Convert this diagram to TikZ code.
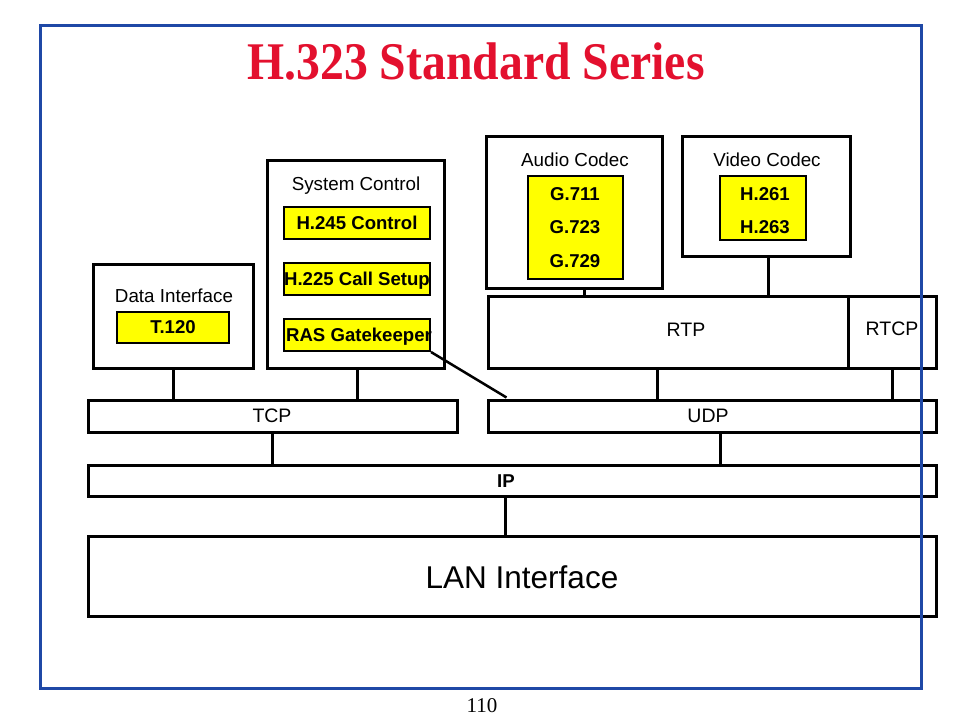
\documentclass[tikz,border=0pt]{standalone}
\usepackage{fontspec}
\setmainfont{Liberation Sans}
\newfontfamily\serifx{Liberation Serif}
\definecolor{titlered}{HTML}{E3102E}
\definecolor{frameblue}{HTML}{1F48A6}
\definecolor{ylw}{HTML}{FFFF00}
\begin{document}
\begin{tikzpicture}[x=1pt,y=-1pt,
  box/.style={draw=black, line width=3pt, rectangle, inner sep=0pt, fill=white},
  ybox/.style={draw=black, line width=2pt, rectangle, fill=ylw, inner sep=0pt},
  lbl/.style={font=\fontsize{18.8}{21}\selectfont, inner sep=0pt, text depth=0pt},
  blbl/.style={font=\fontsize{18.6}{21}\selectfont\bfseries, inner sep=0pt, text depth=0pt},
  wire/.style={line width=3pt}]
\useasboundingbox (0,0) rectangle (960,720);

% title
\node[font=\serifx\bfseries\fontsize{47.7}{50}\selectfont, text=titlered, inner sep=0pt] (title) at (476,62) {\scalebox{1}[1.11]{H.323 Standard Series}};

% boxes
\node[box, minimum width=160pt, minimum height=104pt] (di) at (173,316) {};
\node[box, minimum width=177pt, minimum height=208pt] (sc) at (355.5,264) {};
\node[box, minimum width=176pt, minimum height=152pt] (ac) at (574,212) {};
\node[box, minimum width=168pt, minimum height=120pt] (vc) at (766,196) {};
\node[box, minimum width=360pt, minimum height=72pt] (rtp) at (668,332) {};
\node[box, minimum width=88pt, minimum height=72pt] (rtcp) at (892,332) {};
\node[box, minimum width=369pt, minimum height=32pt] (tcp) at (272.5,416) {};
\node[box, minimum width=448pt, minimum height=32pt] (udp) at (712,416) {};
\node[box, minimum width=848pt, minimum height=31pt] (ip) at (512,480.5) {};
\node[box, minimum width=848pt, minimum height=80pt] (lan) at (512,576) {};

% yellow boxes
\node[ybox, minimum width=112pt, minimum height=31pt] (t120) at (173,327.5) {};
\node[ybox, minimum width=146pt, minimum height=32pt] (h245) at (357,223) {};
\node[ybox, minimum width=146pt, minimum height=32pt] (h225) at (357,279) {};
\node[ybox, minimum width=146pt, minimum height=32pt] (ras) at (357,335) {};
\node[ybox, minimum width=95pt, minimum height=103pt] (ay) at (575.5,227.5) {};
\node[ybox, minimum width=86pt, minimum height=64pt] (vy) at (763,208) {};

% labels
\node[lbl] (dil) at (174,296) {Data Interface};
\node[lbl] (scl) at (356,184) {System Control};
\node[lbl] (acl) at (575,160) {Audio Codec};
\node[lbl] (vcl) at (767,160) {Video Codec};
\node[blbl] (t120l) at (173,327.5) {T.120};
\node[blbl] (h245l) at (357,223) {H.245 Control};
\node[blbl] (h225l) at (357,279) {H.225 Call Setup};
\node[blbl] (rasl) at (359,335) {RAS Gatekeeper};
\node[blbl] (g711) at (575,194) {G.711};
\node[blbl] (g723) at (575,227) {G.723};
\node[blbl] (g729) at (575,261) {G.729};
\node[blbl] (h261) at (765,194) {H.261};
\node[blbl] (h263) at (765,227) {H.263};
\node[lbl, font=\fontsize{19.5}{21}\selectfont] (rtpl) at (686,330) {RTP};
\node[lbl, font=\fontsize{19.5}{21}\selectfont] (rtcpl) at (892,329) {RTCP};
\node[lbl, font=\fontsize{19.5}{21}\selectfont] (tcpl) at (272,416) {TCP};
\node[lbl, font=\fontsize{19.5}{21}\selectfont] (udpl) at (708,416) {UDP};
\node[blbl] (ipl) at (506,481) {IP};
\node[lbl, font=\fontsize{31.5}{34}\selectfont] (lanl) at (522,577) {LAN Interface};

% connectors
\draw[wire] (di.south) -- (di.south |- tcp.north);
\draw[wire] ([xshift=1.5pt]sc.south) -- ([xshift=1.5pt]sc.south |- tcp.north);
\draw[wire] ([xshift=10pt]ac.south) -- ([xshift=10pt]ac.south |- rtp.north);
\draw[wire] ([xshift=2pt]vc.south) -- ([xshift=2pt]vc.south |- rtp.north);
\draw[wire] ([xshift=-11pt]rtp.south) -- ([xshift=-11pt]rtp.south |- udp.north);
\draw[wire] (rtcp.south) -- (rtcp.south |- udp.north);
\draw[wire] (tcp.south) -- (tcp.south |- ip.north);
\draw[wire] ([xshift=8pt]udp.south) -- ([xshift=8pt]udp.south |- ip.north);
\draw[wire] ([xshift=-7pt]ip.south) -- ([xshift=-7pt]ip.south |- lan.north);
\coordinate (udpin) at ([xshift=20pt,yshift=1pt]udp.north west);
\draw[line width=2.5pt] (ras.south east) -- (udpin);

% frame and page number
\node[draw=frameblue, line width=3pt, rectangle, inner sep=0pt, minimum width=881pt, minimum height=663pt] (frame) at (480.5,356.5) {};
\node[font=\serifx\fontsize{21}{23}\selectfont, inner sep=0pt, text depth=0pt] (pnum) at (482,706) {110};
\end{tikzpicture}
\end{document}
